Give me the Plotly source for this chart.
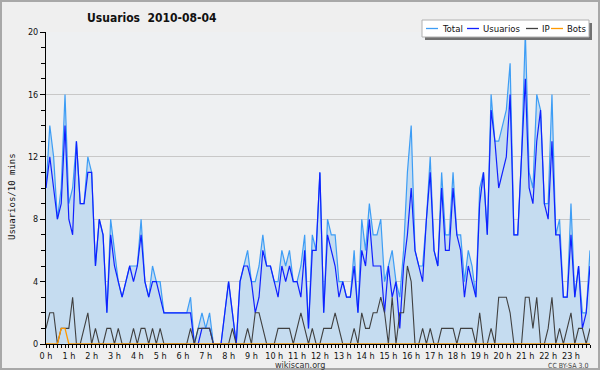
import plotly.graph_objects as go

# 10-minute slots over the day (minutes since midnight)
minutes = [m for m in range(0, 1440, 10)]

total = [10, 14, 12, 8, 10, 16, 9, 10, 13, 9, 9, 12, 11, 5, 8, 7, 2, 8, 6, 4,
         3, 4, 5, 5, 5, 8, 4, 3, 5, 4, 4, 2, 2, 2, 2, 2, 2, 2, 3, 0,
         1, 2, 1, 2, 0, 0, 0, 2, 4, 2, 0, 4, 5, 6, 4, 4, 5, 7, 5, 5,
         4, 4, 6, 5, 6, 4, 4, 5, 7, 1, 7, 6, 11, 2, 8, 7, 7, 4, 4, 3,
         3, 6, 2, 8, 6, 9, 7, 7, 8, 4, 5, 6, 4, 3, 6, 11, 14, 6, 5, 5,
         8, 12, 6, 5, 11, 7, 7, 11, 7, 7, 4, 6, 5, 3, 10, 11, 7, 16, 13, 13,
         14, 15, 18, 7, 7, 12, 20, 11, 10, 16, 15, 9, 9, 16, 7, 8, 3, 3, 9, 3,
         5, 2, 2, 6]

usuarios = [10, 12, 10, 8, 9, 14, 8, 7, 13, 9, 9, 11, 11, 5, 8, 7, 2, 7, 5, 4,
            3, 4, 5, 4, 5, 7, 4, 3, 4, 4, 3, 2, 2, 2, 2, 2, 2, 2, 2, 0,
            0, 1, 1, 1, 0, 0, 0, 2, 4, 2, 0, 4, 5, 5, 4, 2, 3, 6, 5, 5,
            4, 3, 5, 4, 5, 4, 4, 3, 6, 1, 6, 6, 11, 2, 7, 6, 5, 3, 4, 3,
            3, 5, 2, 6, 5, 8, 5, 5, 5, 2, 5, 3, 4, 1, 5, 7, 10, 6, 5, 4,
            8, 11, 6, 5, 10, 6, 6, 10, 7, 6, 3, 5, 4, 3, 9, 11, 7, 15, 13, 10,
            11, 12, 16, 7, 7, 12, 17, 10, 9, 13, 15, 9, 8, 13, 7, 7, 3, 3, 7, 3,
            5, 1, 2, 5]

ip = [1, 2, 2, 0, 1, 1, 1, 3, 0, 0, 1, 2, 0, 1, 0, 0, 1, 1, 0, 1,
      0, 0, 0, 1, 0, 1, 1, 0, 1, 0, 1, 0, 0, 0, 0, 0, 0, 0, 1, 0,
      1, 1, 1, 1, 0, 0, 0, 0, 0, 1, 0, 0, 0, 1, 0, 2, 2, 1, 0, 0,
      0, 1, 1, 1, 1, 0, 1, 2, 1, 0, 1, 0, 0, 1, 1, 1, 2, 1, 0, 0,
      0, 1, 0, 2, 1, 1, 2, 2, 3, 2, 0, 3, 0, 2, 2, 5, 4, 0, 0, 1,
      0, 1, 0, 0, 1, 1, 1, 1, 0, 1, 1, 1, 1, 0, 2, 0, 0, 1, 0, 3,
      3, 3, 2, 0, 0, 0, 3, 3, 1, 3, 0, 0, 1, 3, 0, 1, 0, 1, 2, 0,
      1, 1, 0, 1]

bots = [0, 0, 0, 0, 1, 1, 0, 0, 0, 0, 0, 0, 0, 0, 0, 0, 0, 0, 0, 0,
        0, 0, 0, 0, 0, 0, 0, 0, 0, 0, 0, 0, 0, 0, 0, 0, 0, 0, 0, 0,
        0, 0, 0, 0, 0, 0, 0, 0, 0, 0, 0, 0, 0, 0, 0, 0, 0, 0, 0, 0,
        0, 0, 0, 0, 0, 0, 0, 0, 0, 0, 0, 0, 0, 0, 0, 0, 0, 0, 0, 0,
        0, 0, 0, 0, 0, 0, 0, 0, 0, 0, 0, 0, 0, 0, 0, 0, 0, 0, 0, 0,
        0, 0, 0, 0, 0, 0, 0, 0, 0, 0, 0, 0, 0, 0, 0, 0, 0, 0, 0, 0,
        0, 0, 0, 0, 0, 0, 0, 0, 0, 0, 0, 0, 0, 0, 0, 0, 0, 0, 0, 0,
        0, 0, 0, 0]

hour_ticks = [0, 60, 120, 180, 240, 300, 360, 420, 480, 540, 600, 660,
              720, 780, 840, 900, 960, 1020, 1080, 1140, 1200, 1260, 1320, 1380]
hour_labels = ["0 h", "1 h", "2 h", "3 h", "4 h", "5 h", "6 h", "7 h", "8 h",
               "9 h", "10 h", "11 h", "12 h", "13 h", "14 h", "15 h", "16 h",
               "17 h", "18 h", "19 h", "20 h", "21 h", "22 h", "23 h"]

series_names = ["Total", "Usuarios", "IP", "Bots"]
series_colors = ["#3d9df5", "#1020ff", "#404040", "#ff9900"]

W, H = 600, 370
ML, MR, MT, MB = 46, 10, 32, 26
PW, PH = W - ML - MR, H - MT - MB


def px(x):
    return (x - ML) / PW


def py(y):
    return (H - MB - y) / PH


FONT = "DejaVu Sans Condensed, DejaVu Sans, sans-serif"

fig = go.Figure()
fig.add_trace(go.Scatter(x=minutes, y=total, mode="lines", fill="tozeroy",
                         fillcolor="#c5dcf0",
                         line=dict(color=series_colors[0], width=1.2),
                         name=series_names[0]))
fig.add_trace(go.Scatter(x=minutes, y=usuarios, mode="lines",
                         line=dict(color=series_colors[1], width=1.2),
                         name=series_names[1]))
fig.add_trace(go.Scatter(x=minutes, y=ip, mode="lines",
                         line=dict(color=series_colors[2], width=1.1),
                         name=series_names[2]))
fig.add_trace(go.Scatter(x=minutes, y=bots, mode="lines",
                         line=dict(color=series_colors[3], width=1.3),
                         name=series_names[3]))

shapes = []
annotations = []

# outer frame
shapes.append(dict(type="rect", xref="paper", yref="paper",
                   x0=px(1), x1=px(W - 1), y0=py(H - 1), y1=py(1),
                   line=dict(color="#a8a8a8", width=2), layer="below"))

# legend box with shadow
lx0, lx1, ly0, ly1 = 422, 589, 20, 37
shapes.append(dict(type="rect", xref="paper", yref="paper",
                   x0=px(lx0 + 3), x1=px(lx1 + 3), y0=py(ly1 + 3), y1=py(ly0 + 3),
                   line=dict(width=0), fillcolor="#707070", layer="above"))
shapes.append(dict(type="rect", xref="paper", yref="paper",
                   x0=px(lx0), x1=px(lx1), y0=py(ly1), y1=py(ly0),
                   line=dict(color="#b0b0b0", width=1), fillcolor="#ffffff",
                   layer="above"))
item_x = [426, 467, 526, 551]
ly = (ly0 + ly1) / 2
for name, color, x0 in zip(series_names, series_colors, item_x):
    shapes.append(dict(type="line", xref="paper", yref="paper",
                       x0=px(x0), x1=px(x0 + 12), y0=py(ly), y1=py(ly),
                       line=dict(color=color, width=1.3), layer="above"))
    annotations.append(dict(text=name, xref="paper", yref="paper",
                            x=px(x0 + 14), y=py(ly), xanchor="left",
                            yanchor="middle", showarrow=False,
                            font=dict(family=FONT, size=9.5, color="#111")))

# title
annotations.append(dict(text="<b>Usuarios  2010-08-04</b>", xref="paper",
                        yref="paper", x=px(85), y=py(18), xanchor="left",
                        yanchor="middle", showarrow=False,
                        font=dict(family=FONT, size=12, color="#111")))
# y axis title
annotations.append(dict(text="Usuarios/10 mins", xref="paper", yref="paper",
                        x=px(12), y=py(197), xanchor="center", yanchor="middle",
                        textangle=-90, showarrow=False,
                        font=dict(family="DejaVu Sans Mono, monospace", size=9,
                                  color="#111")))
# footer
annotations.append(dict(text="wikiscan.org", xref="paper", yref="paper",
                        x=px(300), y=py(364.5), xanchor="center", yanchor="middle",
                        showarrow=False,
                        font=dict(family=FONT, size=9, color="#333")))
annotations.append(dict(text="CC BY-SA 3.0", xref="paper", yref="paper",
                        x=px(590), y=py(366), xanchor="right", yanchor="middle",
                        showarrow=False,
                        font=dict(family=FONT, size=7, color="#444")))

fig.update_layout(
    width=W, height=H,
    margin=dict(l=ML, r=MR, t=MT, b=MB, pad=0),
    paper_bgcolor="#efefef",
    plot_bgcolor="#eef0f2",
    showlegend=False,
    shapes=shapes,
    annotations=annotations,
    xaxis=dict(range=[0, 1430], tickmode="array", tickvals=hour_ticks,
               ticktext=hour_labels, ticks="outside", ticklen=3,
               tickcolor="#000", showline=True, linecolor="#000", linewidth=1,
               showgrid=False, zeroline=False,
               tickfont=dict(family=FONT, size=9, color="#111"),
               minor=dict(dtick=10, tick0=0, ticks="outside", ticklen=3,
                          tickcolor="#000", showgrid=False)),
    yaxis=dict(range=[0, 20], dtick=4, tick0=0, ticks="outside", ticklen=5,
               tickcolor="#000", showline=True, linecolor="#000", linewidth=1,
               showgrid=True, gridcolor="#c8c8c8", gridwidth=1, zeroline=False,
               tickfont=dict(family=FONT, size=9, color="#111"),
               minor=dict(dtick=1, ticks="outside", ticklen=4,
                          tickcolor="#000", showgrid=False)),
)

fig.write_html("out.html",
               config={"displayModeBar": False},
               post_script="document.body.style.margin='0';"
                           "document.body.style.overflow='hidden';")
